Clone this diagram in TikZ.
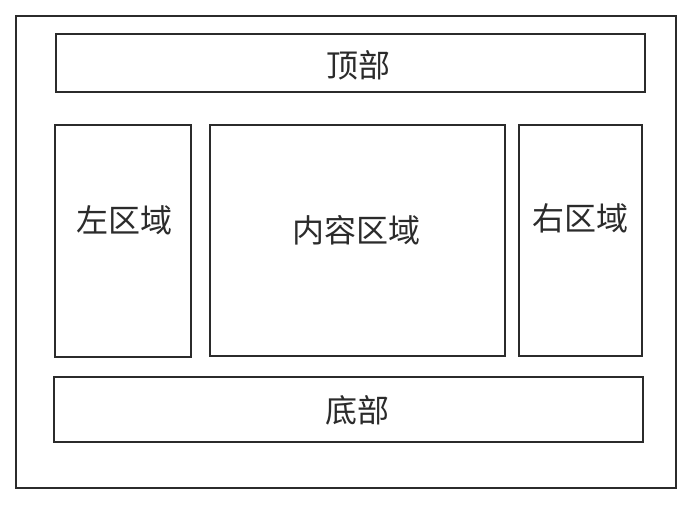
\documentclass[tikz,border=0pt]{standalone}
\usepackage{fontspec}
\setmainfont{Noto Sans CJK SC}
\usepackage{xcolor}
\definecolor{edge}{HTML}{2B2B2B}
\tikzset{
  area/.style={draw=edge, line width=1.4pt, rectangle, inner sep=0pt, minimum width=#1},
  tag/.style={text=edge, font=\fontsize{32}{38}\selectfont, inner sep=0pt}
}

\begin{document}
\begin{tikzpicture}[x=1pt, y=-1pt]
        \useasboundingbox (0,0) rectangle (698,507);

        % Page
        \node[area=660pt, minimum height=472pt] (page) at (346,252) {};

        % Top
        \node[area=589pt, minimum height=58pt] (top) at (350.5,63) {};
        \node[tag] (toptext) at (358,65) {顶部};

        % Left
        \node[area=136pt, minimum height=232pt] (left) at (123,241) {};
        \node[tag] (lefttext) at (124,220) {左区域};

        % Content
        \node[area=295pt, minimum height=231pt] (content) at (357.5,240.5) {};
        \node[tag] (contenttext) at (356,230) {内容区域};

        % Right
        \node[area=123pt, minimum height=231pt] (right) at (580.5,240.5) {};
        \node[tag] (righttext) at (580,218) {右区域};

        % Bottom
        \node[area=589pt, minimum height=65pt] (bottom) at (348.5,409.5) {};
        \node[tag] (bottomtext) at (357,410) {底部};
    \end{tikzpicture}
\end{document}
